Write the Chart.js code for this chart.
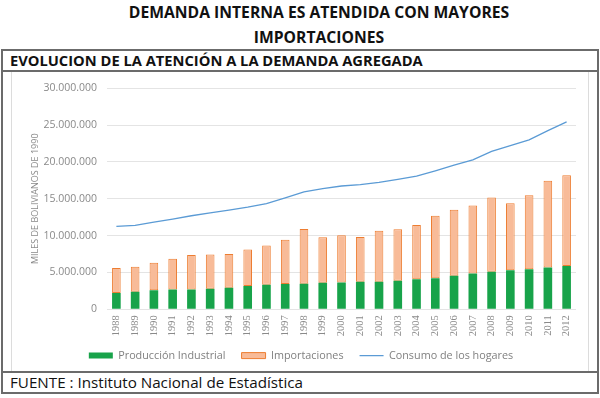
<!DOCTYPE html>
<html>
<head>
<meta charset="utf-8">
<script src="https://cdn.jsdelivr.net/npm/chart.js@4"></script>
<style>
  html, body { margin:0; padding:0; background:#fff; }
  body { width:600px; height:398px; position:relative; overflow:hidden; font-family:"Open Sans", sans-serif; }
  .abs { position:absolute; }
  .title { left:0; width:638px; text-align:center; font-weight:bold; font-size:15.7px; line-height:20px; color:#111; white-space:nowrap; }
  .hline { background:#6b6b6b; left:1px; width:597px; height:2px; }
  .vline { background:#6b6b6b; width:2px; }
  .lvline { background:#dcdcdc; width:1px; top:72px; height:299px; }
</style>
</head>
<body>
<div class="abs title" style="top:2px;">DEMANDA INTERNA ES ATENDIDA CON MAYORES</div>
<div class="abs title" style="top:27px;">IMPORTACIONES</div>

<div class="abs hline" style="top:49px;"></div>
<div class="abs hline" style="top:70px;"></div>
<div class="abs hline" style="top:371px;"></div>
<div class="abs hline" style="top:392px;"></div>
<div class="abs vline" style="left:1px; top:49px; height:345px;"></div>
<div class="abs vline" style="left:597px; top:49px; height:345px;"></div>
<div class="abs lvline" style="left:11px;"></div>
<div class="abs lvline" style="left:588px;"></div>

<div class="abs" style="left:10px; top:50px; font-weight:bold; font-size:14.7px; line-height:20px; color:#111; white-space:nowrap;">EVOLUCION DE LA ATENCIÓN A LA DEMANDA AGREGADA</div>
<div class="abs" style="left:10px; top:372px; font-size:15.2px; line-height:20px; color:#111; white-space:nowrap;">FUENTE : Instituto Nacional de Estadística</div>

<div class="abs" style="left:12px; top:72px; width:576px; height:299px;">
  <canvas id="c" width="576" height="299"></canvas>
</div>

<script>
const years = ["1988","1989","1990","1991","1992","1993","1994","1995","1996","1997","1998","1999","2000","2001","2002","2003","2004","2005","2006","2007","2008","2009","2010","2011","2012"];
const produccionIndustrial = [2190000,2380000,2560000,2690000,2690000,2780000,2910000,3140000,3320000,3410000,3450000,3590000,3630000,3720000,3720000,3860000,4080000,4210000,4530000,4840000,5070000,5290000,5430000,5650000,5880000];
const importaciones = [3420000,3400000,3760000,4170000,4660000,4660000,4580000,4980000,5330000,6010000,7450000,6190000,6420000,6100000,6950000,6990000,7360000,8480000,8970000,9240000,10090000,9110000,10040000,11800000,12320000];
const consumoHogares = [11260000,11390000,11840000,12240000,12690000,13090000,13450000,13860000,14350000,15110000,15920000,16370000,16730000,16910000,17220000,17620000,18070000,18790000,19550000,20270000,21430000,22200000,23000000,24260000,25430000];
const yTicks = [0,5000000,10000000,15000000,20000000,25000000,30000000];
const yTitle = "MILES DE BOLIVIANOS DE 1990";

const fmt = v => String(v).replace(/\B(?=(\d{3})+(?!\d))/g, ".");
const legendStyles = ['rect', 'rect', 'line'];

const ctx = document.getElementById('c').getContext('2d');
new Chart(ctx, {
  type: 'bar',
  data: {
    labels: years,
    datasets: [
      { label: 'Producción Industrial', data: produccionIndustrial, backgroundColor: '#18A34A', borderWidth: 0, stack: 'b', barPercentage: 0.46, categoryPercentage: 1, order: 2 },
      { label: 'Importaciones', data: importaciones, backgroundColor: '#F8BB98', borderColor: '#ED7D31', borderWidth: 1, borderSkipped: false, stack: 'b', barPercentage: 0.46, categoryPercentage: 1, order: 2 },
      { type: 'line', label: 'Consumo de los hogares', data: consumoHogares, borderColor: '#5B9BD5', backgroundColor: '#5B9BD5', borderWidth: 1.3, pointRadius: 0, tension: 0, fill: false, stack: 'l', order: 1 }
    ]
  },
  options: {
    responsive: false,
    animation: false,
    layout: { padding: { left: 14, right: 12, top: 14, bottom: 0 } },
    scales: {
      x: {
        stacked: true,
        grid: { display: false, drawTicks: false },
        border: { display: false },
        ticks: { minRotation: 90, maxRotation: 90, padding: 6, color: '#8a8a8a', font: { family: 'Liberation Serif', size: 10.5 } },
        afterFit: s => { s.height = 25; },
        afterUpdate: s => { s._computeLabelArea = () => undefined; }
      },
      y: {
        stacked: true,
        min: 0, max: 30000000,
        afterBuildTicks: s => { s.ticks = yTicks.map(v => ({ value: v })); },
        grid: { color: '#e4e4e4', drawTicks: false, lineWidth: 1 },
        border: { display: false },
        ticks: { padding: 10, color: '#8a8a8a', font: { family: 'Open Sans', size: 10.5 }, callback: v => fmt(v) },
        title: { display: true, text: yTitle, color: '#8a8a8a', font: { family: 'Open Sans', size: 9 }, padding: { top: 4, bottom: 0 } },
        afterFit: s => { s.width = 81; }
      }
    },
    plugins: {
      tooltip: { enabled: false },
      legend: {
        position: 'bottom',
        labels: {
          usePointStyle: true,
          pointStyleWidth: 24,
          boxHeight: 6,
          padding: 16,
          color: '#808080',
          font: { family: 'Open Sans', size: 10.8 },
          generateLabels: chart => {
            const items = Chart.defaults.plugins.legend.labels.generateLabels(chart);
            items.sort((a, b) => a.datasetIndex - b.datasetIndex);
            items.forEach(it => { it.pointStyle = legendStyles[it.datasetIndex]; });
            return items;
          }
        }
      }
    }
  }
});
</script>
</body>
</html>
